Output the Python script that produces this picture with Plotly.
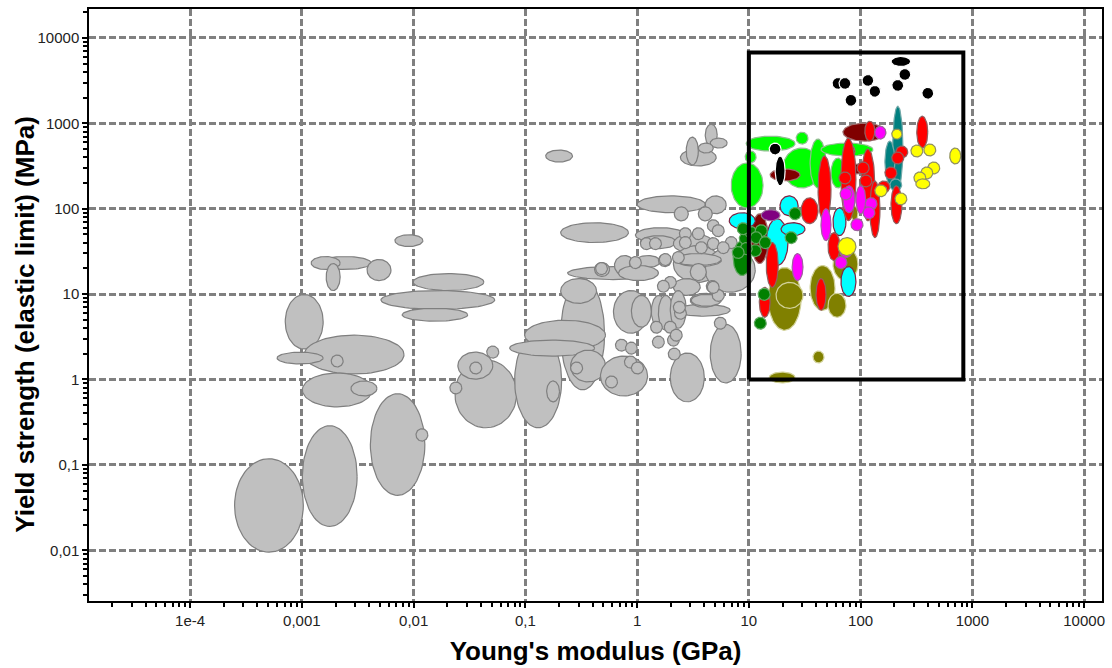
import numpy as np
import plotly.graph_objects as go

# ---- data: each material envelope = (E_min, E_max, sigma_min, sigma_max) in GPa / MPa ----
gray = [
    (0.00025, 0.00103, 0.0095, 0.118), (0.00101, 0.00312, 0.019, 0.287),
    (0.0041, 0.0126, 0.044, 0.68), (0.0105, 0.0134, 0.19, 0.265),
    (0.00071, 0.00155, 2.27, 9.9), (0.00105, 0.0082, 1.16, 3.3),
    (0.0006, 0.00155, 1.52, 2.09), (0.00183, 0.00234, 1.40, 1.93),
    (0.00101, 0.00425, 0.478, 1.19), (0.00275, 0.0047, 0.642, 0.96),
    (0.00143, 0.00416, 19.4, 27.5), (0.00121, 0.0022, 19.4, 27.5),
    (0.00165, 0.0022, 11.0, 22.8), (0.00383, 0.00627, 14.4, 25.4),
    (0.0099, 0.0425, 11.0, 17.4), (0.0051, 0.0532, 6.63, 11.0),
    (0.0079, 0.0305, 4.81, 6.81), (0.0234, 0.0836, 0.272, 1.69),
    (0.0249, 0.0511, 1.01, 2.09), (0.0318, 0.0407, 1.16, 1.60),
    (0.0451, 0.0578, 1.78, 2.46), (0.0211, 0.027, 0.678, 0.935),
    (0.0068, 0.0121, 36.0, 49.6), (0.152, 0.264, 352, 486),
    (0.207, 0.511, 0.755, 15.2), (0.207, 0.433, 7.79, 15.2),
    (0.0802, 0.211, 0.272, 3.48), (0.0986, 0.521, 2.21, 4.94),
    (0.0724, 0.416, 1.88, 2.89), (0.254, 0.521, 0.935, 2.21),
    (0.254, 0.325, 1.16, 1.60), (0.155, 0.202, 0.547, 0.96),
    (0.47, 1.24, 0.642, 1.88), (0.521, 0.667, 0.796, 1.10),
    (0.64, 0.819, 2.15, 2.96), (0.787, 1.0, 1.98, 2.74),
    (0.77, 0.99, 1.36, 1.88), (0.889, 1.14, 1.16, 1.60),
    (4.51, 8.53, 0.91, 4.43), (1.98, 3.99, 0.547, 2.04),
    (4.91, 6.27, 3.88, 5.36), (1.9, 2.43, 1.69, 2.33),
    (0.207, 0.836, 40.1, 68.5), (0.239, 1.55, 14.8, 21.0),
    (0.416, 0.566, 16.1, 23.4), (0.627, 0.946, 16.5, 28.3),
    (0.853, 1.09, 19.4, 26.8), (0.966, 1.61, 20.5, 28.3),
    (1.55, 2.02, 21.0, 29.0), (0.425, 0.542, 16.9, 23.4),
    (0.681, 1.55, 14.4, 21.6), (0.966, 2.7, 40.1, 59.9),
    (1.07, 2.24, 34.1, 48.3), (2.11, 4.8, 29.8, 51.0),
    (2.11, 5.66, 13.7, 37.0), (4.07, 11.4, 10.5, 35.0),
    (2.24, 5.66, 21.0, 29.0), (2.15, 5.66, 21.6, 29.8),
    (2.99, 4.16, 14.4, 22.8), (2.11, 3.67, 9.66, 15.2),
    (4.16, 5.32, 10.5, 14.4), (0.614, 1.26, 3.48, 11.0),
    (0.889, 1.34, 4.09, 9.66), (1.34, 1.83, 4.09, 9.66),
    (1.55, 2.11, 3.77, 9.66), (1.98, 2.75, 3.98, 11.0),
    (2.24, 6.81, 5.5, 7.59), (2.99, 5.32, 7.0, 10.2),
    (3.05, 5.66, 7.19, 9.93), (4.7, 6.02, 8.22, 11.3),
    (1.32, 1.68, 3.48, 4.81), (1.37, 1.75, 2.33, 3.22),
    (1.75, 2.24, 3.48, 4.81), (1.87, 2.38, 2.46, 3.39),
    (1.98, 2.53, 2.81, 3.88), (2.16, 2.76, 5.07, 7.0),
    (1.75, 2.24, 11.7, 16.1), (4.25, 5.42, 10.2, 14.1),
    (1.52, 1.94, 10.5, 14.5), (2.11, 2.7, 5.96, 8.22),
    (1.0, 4.07, 89.6, 141), (4.07, 6.27, 87.3, 141),
    (2.15, 2.87, 72, 105), (3.53, 4.7, 72, 105), (4.25, 5.42, 53.8, 74.3),
    (1.07, 1.37, 33.2, 45.8), (1.29, 1.65, 33.2, 45.8),
    (1.58, 2.02, 21.6, 29.8), (0.855, 1.09, 19.9, 27.5),
    (2.07, 2.64, 22.8, 31.5), (2.39, 3.05, 43.4, 59.9),
    (2.39, 3.05, 34.1, 47.1), (3.32, 4.24, 29.8, 41.1),
    (3.12, 3.99, 43.4, 59.9), (4.25, 5.42, 33.2, 45.8),
    (6.15, 7.85, 34.1, 47.1), (5.22, 6.67, 29.8, 41.1),
    (4.7, 6.01, 47.0, 64.9),
    (2.44, 5.1, 316, 499), (2.75, 3.53, 325, 689),
    (4.07, 5.21, 541, 977), (4.51, 6.4, 513, 670), (3.53, 4.8, 448, 586),
]

lime = [
    (6.95, 13.4, 102, 343), (9.46, 25.9, 473, 707), (26.5, 33.8, 570, 787),
    (20.2, 44.2, 175, 513), (35.3, 49.0, 175, 653), (44.2, 129, 414, 586),
    (54.3, 72.4, 175, 392), (9.27, 11.6, 343, 473),
]
olive = [
    (14.9, 29.3, 3.77, 20.5), (17.5, 30.5, 6.81, 13.7), (35.3, 59.0, 6.46, 21.6),
    (51.1, 73.9, 5.35, 10.2), (56.6, 94.6, 14.4, 35.0), (37.5, 47.0, 1.56, 2.15),
    (15.2, 25.9, 0.91, 1.22), (81.9, 94.6, 72.3, 108),
]
maroon = [
    (69.5, 168, 618, 1003), (15.5, 28.7, 211, 292), (69.6, 89, 403, 556),
    (83.7, 103, 255, 334), (10.5, 14.9, 22.8, 87.3),
]
purple = [(12.9, 19.0, 72.3, 97.1)]
cyan = [
    (6.67, 11.4, 58.3, 89.6), (19.0, 27.6, 82.7, 141), (56.6, 73.9, 48.3, 102),
    (66.7, 90.8, 9.4, 21.0), (14.3, 22.4, 21.6, 76.3), (19.4, 31.8, 48.3, 68.5),
]
teal = [(194, 239, 175, 1582), (165, 202, 195, 618), (183, 233, 162, 223)]
red = [
    (109, 134, 618, 1057), (318, 399, 513, 1210), (41.6, 54.3, 68.5, 414),
    (66.7, 90.8, 72.3, 670), (101, 134, 72.3, 499), (121, 149, 45.8, 211),
    (187, 234, 66.7, 185), (29.3, 41.6, 66.7, 134), (51.1, 65.3, 24.7, 52.4),
    (39.9, 49.0, 6.46, 15.2), (14.3, 18.3, 12.0, 40.1), (12.4, 15.5, 5.35, 12.0),
    (92.8, 119, 255, 352), (98.5, 126, 180, 248), (64, 81.8, 195, 269),
    (207, 264, 392, 541), (190, 243, 334, 461), (165, 211, 223, 308),
    (143, 182, 153, 211),
]
magenta = [
    (134, 168, 653, 925), (69.5, 88.9, 89.6, 185), (90.8, 111, 87.3, 185),
    (65.5, 83.5, 127, 175), (110, 140, 97, 134), (105, 134, 76.3, 105),
    (82, 105, 55.3, 76.3), (65.5, 83.5, 26.8, 37.0), (59, 75.4, 19.9, 27.5),
    (44.2, 54.3, 42.3, 99.7), (24.4, 30.5, 14.4, 29.8),
]
yellow = [
    (190, 234, 653, 853), (282, 360, 403, 556), (368, 470, 414, 571),
    (627, 787, 334, 513), (399, 510, 255, 352), (346, 442, 223, 308),
    (300, 383, 195, 269), (312, 416, 171, 223), (203, 259, 111, 153),
    (134, 172, 138, 190), (62.7, 90.8, 28.3, 45.8),
]
dkgreen = [
    (7.24, 10.5, 16.5, 42.3), (22.9, 29.3, 74.3, 103), (21.1, 27.0, 39.0, 53.8),
    (12.1, 15.5, 8.45, 11.7), (11.2, 14.3, 3.88, 5.36), (8.2, 10.5, 38.0, 52.4),
    (9.29, 11.9, 44.6, 61.6), (11.4, 14.6, 47.0, 64.9), (10.3, 13.1, 39.0, 53.8),
    (12.4, 15.8, 34.1, 47.1), (10.1, 12.9, 27.5, 37.9), (8.37, 10.7, 29.0, 40.1),
    (7.1, 9.06, 26.1, 36.0), (7.87, 10.0, 49.6, 68.5),
]
black = [
    (187, 281, 4627, 6053), (55.5, 70.8, 2494, 3444), (64.1, 81.8, 2494, 3444),
    (103, 131, 2704, 3733), (119, 151, 2014, 2780), (72.5, 92.5, 1581, 2183),
    (190, 243, 2366, 3266), (220, 281, 3177, 4386), (353, 451, 1910, 2637),
    (17.2, 21.1, 185, 414), (15.2, 19.4, 425, 586),
]

# selection box (E range, sigma range)
box_E = [10, 830]
box_S = [1, 6750]

x_tickvals = [1e-4, 1e-3, 1e-2, 1e-1, 1, 10, 100, 1000, 10000]
x_ticktext = ["1e-4", "0,001", "0,01", "0,1", "1", "10", "100", "1000", "10000"]
y_tickvals = [0.01, 0.1, 1, 10, 100, 1000, 10000]
y_ticktext = ["0,01", "0,1", "1", "10", "100", "1000", "10000"]

groups = [
    (gray, "#c0c0c0", "#7f7f7f"),
    (lime, "#00ff00", "#8fbf8f"),
    (olive, "#808000", "#d2d29a"),
    (maroon, "#800000", "#a07070"),
    (cyan, "#00ffff", "#802040"),
    (purple, "#800080", "#9a709a"),
    (teal, "#008080", "#70a8a8"),
    (red, "#ff0000", "#906060"),
    (magenta, "#ff00ff", "#a060a0"),
    (yellow, "#ffff00", "#909060"),
    (dkgreen, "#008000", "#60a860"),
    (black, "#000000", "#ffffff"),
]

t = np.linspace(0, 2 * np.pi, 73)
fig = go.Figure()
for items, fill, edge in groups:
    for e0, e1, s0, s1 in items:
        cx, ax = (np.log10(e0) + np.log10(e1)) / 2, (np.log10(e1) - np.log10(e0)) / 2
        cy, ay = (np.log10(s0) + np.log10(s1)) / 2, (np.log10(s1) - np.log10(s0)) / 2
        fig.add_trace(go.Scatter(
            x=10 ** (cx + ax * np.cos(t)), y=10 ** (cy + ay * np.sin(t)),
            mode="lines", fill="toself", fillcolor=fill,
            line=dict(color=edge, width=1.2), hoverinfo="skip", showlegend=False))

fig.add_trace(go.Scatter(
    x=[box_E[0], box_E[1], box_E[1], box_E[0], box_E[0]],
    y=[box_S[0], box_S[0], box_S[1], box_S[1], box_S[0]],
    mode="lines", line=dict(color="black", width=4), hoverinfo="skip", showlegend=False))

minor_x = [m * 10.0 ** k for k in range(-5, 5) for m in range(2, 10)]
minor_y = [m * 10.0 ** k for k in range(-3, 5) for m in range(2, 10)]

axis_common = dict(
    type="log", showline=True, mirror=True, linecolor="black", linewidth=1.5,
    ticks="outside", ticklen=5, tickwidth=1.5, tickcolor="black",
    showgrid=True, gridcolor="#808080", gridwidth=2.5, griddash="7px,3px",
    zeroline=False, tickfont=dict(family="Liberation Sans, Arial", size=15, color="#222222"),
    tickmode="array",
)

title_font = dict(family="Liberation Sans, Arial", size=26, color="black", weight="bold")

fig.update_layout(
    width=1112, height=668, margin=dict(l=89, r=7, t=7, b=66),
    paper_bgcolor="white", plot_bgcolor="white",
    xaxis=dict(**axis_common, range=[-4.905, 4.16], tickvals=x_tickvals, ticktext=x_ticktext,
               minor=dict(tickvals=minor_x, ticks="outside", ticklen=4, tickwidth=1.5,
                          tickcolor="black", showgrid=False),
               title=dict(text="Young's modulus (GPa)", standoff=14, font=title_font)),
    yaxis=dict(**axis_common, range=[-2.594, 4.338], tickvals=y_tickvals, ticktext=y_ticktext,
               minor=dict(tickvals=minor_y, ticks="outside", ticklen=4, tickwidth=1.5,
                          tickcolor="black", showgrid=False)),
    annotations=[dict(text="Yield strength (elastic limit) (MPa)", textangle=-90,
                      xref="paper", yref="paper", x=-0.064, y=0.467,
                      xanchor="center", yanchor="middle", showarrow=False, font=title_font)],
)

fig.write_html("out.html")
